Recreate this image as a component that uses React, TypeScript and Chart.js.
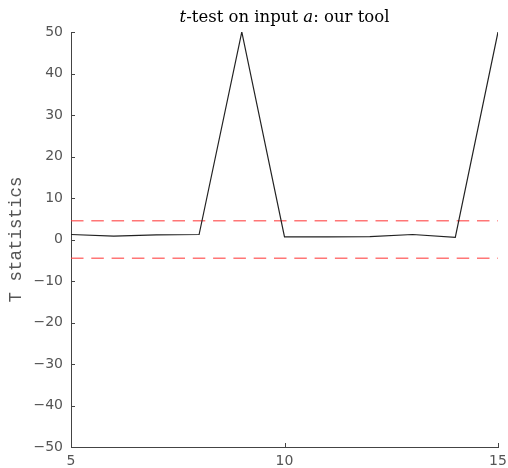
import React, { useEffect, useRef } from "react";
import { Chart, registerables } from "chart.js";

Chart.register(...registerables);

const xValues = [5, 6, 7, 8, 9, 10, 11, 12, 13, 14, 15];
const tStats = [1.2, 0.8, 1.1, 1.2, 50, 0.65, 0.65, 0.7, 1.2, 0.5, 50];
const thresholdUpper = 4.5;
const thresholdLower = -4.5;
const xRange = [5, 15];
const yRange = [-50, 50];

const AXIS_COLOR = "#444";
const LABEL_COLOR = "#555";

const innerTicks = {
  id: "innerTicks",
  afterDraw(chart: any) {
    const { ctx, chartArea, scales } = chart;
    ctx.save();
    ctx.strokeStyle = AXIS_COLOR;
    ctx.lineWidth = 1;
    ctx.beginPath();
    scales.y.ticks.forEach((t: any) => {
      const py = Math.round(scales.y.getPixelForValue(t.value)) + 0.5;
      ctx.moveTo(chartArea.left, py);
      ctx.lineTo(chartArea.left + 4, py);
    });
    scales.x.ticks.forEach((t: any) => {
      const px = Math.round(scales.x.getPixelForValue(t.value)) + 0.5;
      ctx.moveTo(px, chartArea.bottom);
      ctx.lineTo(px, chartArea.bottom - 4);
    });
    ctx.stroke();
    ctx.restore();
  },
};

export default function App() {
  const ref = useRef<HTMLCanvasElement | null>(null);

  useEffect(() => {
    if (!ref.current) return;
    const chart = new Chart(ref.current, {
      type: "line",
      data: {
        datasets: [
          {
            data: xValues.map((x, i) => ({ x, y: tStats[i] })),
            borderColor: "#222",
            borderWidth: 1.2,
            pointRadius: 0,
            tension: 0,
            order: 0,
          },
          {
            data: xRange.map((x) => ({ x, y: thresholdUpper })),
            borderColor: "rgba(255,60,60,0.7)",
            borderWidth: 1.5,
            borderDash: [12.5, 7.8],
            pointRadius: 0,
            order: 1,
          },
          {
            data: xRange.map((x) => ({ x, y: thresholdLower })),
            borderColor: "rgba(255,60,60,0.7)",
            borderWidth: 1.5,
            borderDash: [12.5, 7.8],
            pointRadius: 0,
            order: 1,
          },
        ],
      },
      options: {
        animation: false,
        responsive: true,
        maintainAspectRatio: false,
        layout: { padding: { top: 32, right: 10, bottom: 0, left: 0 } },
        plugins: {
          legend: { display: false },
          tooltip: { enabled: false },
          title: { display: false },
        },
        scales: {
          x: {
            type: "linear",
            min: xRange[0],
            max: xRange[1],
            grid: { display: false, drawTicks: false },
            border: { display: true, color: AXIS_COLOR, width: 1 },
            ticks: {
              stepSize: 5,
              padding: 6,
              color: LABEL_COLOR,
              font: { family: "DejaVu Sans", size: 14 },
              maxRotation: 0,
            },
            afterFit: (s: any) => {
              s.height = 21;
              s.paddingLeft = 0;
              s.paddingRight = 0;
            },
          },
          y: {
            min: yRange[0],
            max: yRange[1],
            grid: { display: false, drawTicks: false },
            border: { display: true, color: AXIS_COLOR, width: 1 },
            ticks: {
              stepSize: 10,
              padding: 8,
              color: LABEL_COLOR,
              font: { family: "DejaVu Sans", size: 14 },
              callback: (v: any) => String(v).replace("-", "\u2212"),
            },
            title: {
              display: true,
              text: "T statistics",
              color: LABEL_COLOR,
              font: { family: "Liberation Mono", size: 17.5 },
              padding: { top: 6, bottom: 0 },
            },
            afterFit: (s: any) => {
              s.width = 71;
            },
          },
        },
      },
      plugins: [innerTicks],
    });
    return () => chart.destroy();
  }, []);

  return (
    <div style={{ position: "absolute", left: 0, top: 0, width: 508, height: 468 }}>
      <canvas ref={ref} />
      <div
        style={{
          position: "absolute",
          left: 71,
          width: 427,
          top: 9,
          textAlign: "center",
          fontFamily: "'DejaVu Serif'",
          fontSize: 16.5,
          lineHeight: "16px",
          color: "#000",
          whiteSpace: "nowrap",
        }}
      >
        <i>t</i>-test on input <i>a</i>: our tool
      </div>
    </div>
  );
}
